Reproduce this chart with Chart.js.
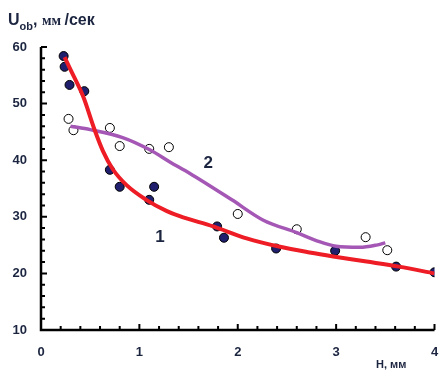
<!DOCTYPE html>
<html>
<head>
<meta charset="utf-8">
<script src="https://cdn.jsdelivr.net/npm/chart.js@4"></script>
<style>
  html, body { margin: 0; padding: 0; background: #fff; }
  #wrap { width: 440px; height: 373px; position: relative; }
</style>
</head>
<body>
<div id="wrap"><canvas id="chart"></canvas></div>
<script>
// точки серии 1 (заполненные)
const series1X = [0.23, 0.24, 0.29, 0.44, 0.70, 0.80, 1.10, 1.15, 1.79, 1.86, 2.39, 2.99, 3.61, 4.0];
const series1Y = [58.4, 56.5, 53.3, 52.2, 38.3, 35.3, 33.0, 35.3, 28.3, 26.3, 24.4, 24.0, 21.2, 20.2];

// точки серии 2 (пустые)
const series2X = [0.28, 0.33, 0.70, 0.80, 1.10, 1.30, 2.00, 2.60, 3.30, 3.52];
const series2Y = [47.3, 45.3, 45.7, 42.5, 42.0, 42.3, 30.5, 27.8, 26.4, 24.1];

// кривая 1 (красная)
const curve1X = [0.24, 0.30, 0.43, 0.54, 0.63, 0.73, 0.87, 1.07, 1.28, 1.41, 1.75, 2.09, 2.43, 2.73, 2.97, 3.31, 3.64, 4.0];
const curve1Y = [58.2, 56.0, 51.2, 45.6, 41.6, 38.4, 35.6, 33.0, 31.0, 30.1, 28.3, 26.2, 24.7, 23.7, 23.0, 22.1, 21.2, 20.0];

// кривая 2 (фиолетовая)
const curve2X = [0.30, 0.50, 0.83, 1.11, 1.31, 1.51, 1.94, 2.26, 2.60, 2.83, 3.00, 3.24, 3.41, 3.50];
const curve2Y = [46.0, 45.4, 44.0, 41.8, 39.7, 37.7, 33.0, 29.4, 27.2, 25.6, 24.8, 24.6, 25.0, 25.4];

const xTicks = [0, 1, 2, 3, 4];
const yTicks = [10, 20, 30, 40, 50, 60];

const curveLabels = [
    { text: '1', x: 1.21, y: 26.3 },
    { text: '2', x: 1.70, y: 39.5 }
];

const textColor = '#1c2540';

function toPoints(xs, ys) {
    return xs.map((x, i) => ({ x: x, y: ys[i] }));
}

// оси, засечки внутрь, подписи
const axesPlugin = {
    id: 'axesPlugin',
    afterDatasetsDraw(chart) {
        const ctx = chart.ctx;
        const xs = chart.scales.x;
        const ys = chart.scales.y;
        const left = xs.getPixelForValue(0);
        const bottom = ys.getPixelForValue(10);
        const top = ys.getPixelForValue(60);
        const right = xs.getPixelForValue(4);

        ctx.save();
        ctx.strokeStyle = '#000';
        ctx.lineWidth = 2.5;
        ctx.beginPath();
        ctx.moveTo(left, top);
        ctx.lineTo(left, bottom);
        ctx.lineTo(right, bottom);
        ctx.stroke();

        ctx.lineWidth = 2;
        ctx.beginPath();
        for (let i = 1; i <= 20; i++) {
            const px = xs.getPixelForValue(i * 0.2);
            const len = (i % 5 === 0) ? 6 : 4;
            ctx.moveTo(px, bottom);
            ctx.lineTo(px, bottom - len);
        }
        for (let i = 1; i <= 25; i++) {
            const py = ys.getPixelForValue(10 + i * 2);
            const len = (i % 5 === 0) ? 6 : 4;
            ctx.moveTo(left, py);
            ctx.lineTo(left + len, py);
        }
        ctx.stroke();

        ctx.fillStyle = textColor;
        ctx.textAlign = 'center';
        ctx.textBaseline = 'middle';
        ctx.font = 'bold 17px "Liberation Sans", Arial, sans-serif';
        curveLabels.forEach(l => {
            ctx.fillText(l.text, xs.getPixelForValue(l.x), ys.getPixelForValue(l.y));
        });

        // заголовок оси Y
        ctx.textAlign = 'left';
        ctx.textBaseline = 'alphabetic';
        ctx.font = 'bold 16px "Liberation Sans", Arial, sans-serif';
        ctx.fillText('U', 8, 25);
        let x = 8 + ctx.measureText('U').width;
        ctx.font = 'bold 11px "Liberation Sans", Arial, sans-serif';
        ctx.fillText('ob', x, 30);
        x += ctx.measureText('ob').width;
        ctx.font = 'bold 16px "Liberation Sans", Arial, sans-serif';
        ctx.fillText(',', x, 25);
        x += ctx.measureText(', ').width;
        ctx.font = 'bold 14px "Liberation Serif", "Times New Roman", serif';
        ctx.fillText('мм', x, 25);
        x += ctx.measureText('мм ').width;
        ctx.font = 'bold 16px "Liberation Sans", Arial, sans-serif';
        ctx.fillText('/сек', x, 25);

        // заголовок оси X
        ctx.font = 'bold 11px "Liberation Sans", Arial, sans-serif';
        ctx.fillText('H, мм', 376, 368);
        ctx.restore();
    }
};

new Chart(document.getElementById('chart'), {
    type: 'scatter',
    data: {
        datasets: [
            {
                label: 'curve1',
                data: toPoints(curve1X, curve1Y),
                showLine: true,
                borderColor: '#ee1c24',
                borderWidth: 4,
                pointRadius: 0,
                cubicInterpolationMode: 'monotone',
                order: 1
            },
            {
                label: 'curve2',
                data: toPoints(curve2X, curve2Y),
                showLine: true,
                borderColor: '#a457b4',
                borderWidth: 3.5,
                pointRadius: 0,
                cubicInterpolationMode: 'monotone',
                order: 1
            },
            {
                label: '1',
                data: toPoints(series1X, series1Y),
                backgroundColor: '#1f1f6e',
                borderColor: '#000',
                borderWidth: 1,
                pointRadius: 4.5,
                order: 2
            },
            {
                label: '2',
                data: toPoints(series2X, series2Y),
                backgroundColor: '#fff',
                borderColor: '#000',
                borderWidth: 1,
                pointRadius: 4.5,
                order: 2
            }
        ]
    },
    options: {
        responsive: true,
        maintainAspectRatio: false,
        animation: false,
        layout: { padding: { left: 0, top: 47, right: 5, bottom: 0 } },
        plugins: {
            legend: { display: false },
            tooltip: { enabled: false }
        },
        scales: {
            x: {
                type: 'linear',
                min: 0,
                max: 4,
                grid: { display: false, drawTicks: false },
                border: { display: false },
                afterBuildTicks: (scale) => { scale.ticks = xTicks.map(v => ({ value: v })); },
                afterFit: (scale) => { scale.height = 43; scale.paddingLeft = 0; scale.paddingRight = 0; },
                ticks: {
                    padding: 15,
                    color: textColor,
                    font: { family: '"Liberation Sans", Arial, sans-serif', size: 13, weight: 'bold' }
                }
            },
            y: {
                type: 'linear',
                min: 10,
                max: 60,
                grid: { display: false, drawTicks: false },
                border: { display: false },
                afterBuildTicks: (scale) => { scale.ticks = yTicks.map(v => ({ value: v })); },
                afterFit: (scale) => { scale.width = 41; scale.paddingTop = 0; scale.paddingBottom = 0; },
                ticks: {
                    padding: 14,
                    color: textColor,
                    font: { family: '"Liberation Sans", Arial, sans-serif', size: 13, weight: 'bold' }
                }
            }
        }
    },
    plugins: [axesPlugin]
});
</script>
</body>
</html>
